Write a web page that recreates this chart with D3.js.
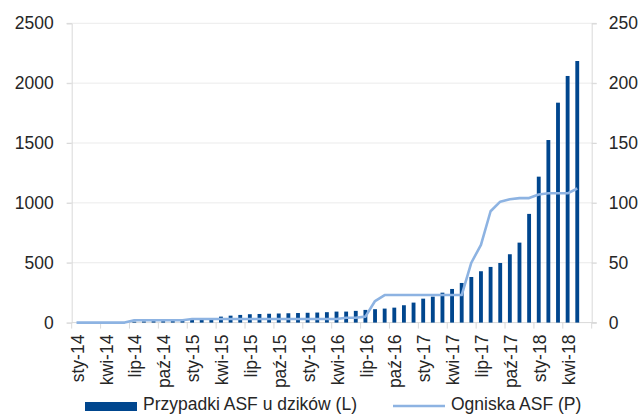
<!DOCTYPE html>
<html>
<head>
<meta charset="utf-8">
<script src="https://cdn.jsdelivr.net/npm/d3@7"></script>
<style>
  html, body { margin: 0; padding: 0; background: #fff; }
  svg { display: block; }
  text { font-family: "Liberation Sans", Arial, sans-serif; fill: #262626; }
</style>
</head>
<body>
<svg id="chart" width="641" height="414"></svg>
<script>
// Monthly categories, Jan 2014 – Jun 2018
const months = [
  "sty-14","lut-14","mar-14","kwi-14","maj-14","cze-14","lip-14","sie-14","wrz-14","paź-14","lis-14","gru-14",
  "sty-15","lut-15","mar-15","kwi-15","maj-15","cze-15","lip-15","sie-15","wrz-15","paź-15","lis-15","gru-15",
  "sty-16","lut-16","mar-16","kwi-16","maj-16","cze-16","lip-16","sie-16","wrz-16","paź-16","lis-16","gru-16",
  "sty-17","lut-17","mar-17","kwi-17","maj-17","cze-17","lip-17","sie-17","wrz-17","paź-17","lis-17","gru-17",
  "sty-18","lut-18","mar-18","kwi-18","maj-18","cze-18"
];

// Cumulative ASF cases in wild boar (left axis)
const wildBoarCases = [
  0, 2, 2, 3, 3, 5, 8, 10, 12, 12, 13, 16,
  25, 30, 38, 50, 58, 64, 70, 72, 74, 76, 78, 80,
  82, 84, 87, 92, 92, 98, 106, 112, 117, 125, 145, 167,
  200, 217, 250, 281, 331, 381, 429, 465, 498, 571, 668, 908,
  1219, 1525, 1837, 2060, 2185, null
];

// Cumulative ASF outbreaks in domestic pigs (right axis)
const outbreaks = [
  0, 0, 0, 0, 0, 0, 2, 2, 2, 2, 2, 2,
  3, 3, 3, 3, 3, 3, 3, 3, 3, 3, 3, 3,
  3, 3, 3, 3, 4, 4, 5, 18, 23, 23, 23, 23,
  23, 23, 23, 23, 23, 50, 65, 93, 101, 103, 104, 104,
  107, 108, 108, 108, 112, null
];

const leftTicks = [0, 500, 1000, 1500, 2000, 2500];
const rightTicks = [0, 50, 100, 150, 200, 250];

const seriesNames = ["Przypadki ASF u dzików (L)", "Ogniska ASF (P)"];
const barColor = "#00468E";
const lineColor = "#8DB3E2";
const gridColor = "#EBEBEB";
const axisColor = "#D9D9D9";

const svg = d3.select("#chart");
const plot = { left: 71.7, right: 591.7, top: 23.3, bottom: 322.6 };

const x = d3.scaleBand()
  .domain(months)
  .range([plot.left, plot.right])
  .paddingInner(0.6)
  .paddingOuter(0.3);
const step = x.step();
const cx = m => x(m) + x.bandwidth() / 2;

const yL = d3.scaleLinear().domain([0, 2500]).range([plot.bottom, plot.top]);
const yR = d3.scaleLinear().domain([0, 250]).range([plot.bottom, plot.top]);

// Gridlines
svg.append("g")
  .selectAll("line")
  .data(leftTicks.slice(1))
  .join("line")
  .attr("x1", plot.left - 5).attr("x2", plot.right + 5)
  .attr("y1", d => yL(d)).attr("y2", d => yL(d))
  .attr("stroke", gridColor).attr("stroke-width", 1);

// Left axis
const axL = svg.append("g")
  .attr("transform", `translate(${plot.left},0)`)
  .call(d3.axisLeft(yL).tickValues(leftTicks).tickFormat(d3.format("d")).tickSize(5).tickPadding(13));
axL.select(".domain").attr("stroke", axisColor);
axL.selectAll(".tick line").attr("stroke", axisColor);
axL.selectAll("text").style("font-size", "17.5px").attr("fill", "#262626")
  .attr("font-family", "Liberation Sans, Arial, sans-serif");

// Right axis
const axR = svg.append("g")
  .attr("transform", `translate(${plot.right},0)`)
  .call(d3.axisRight(yR).tickValues(rightTicks).tickFormat(d3.format("d")).tickSize(5).tickPadding(12));
axR.select(".domain").attr("stroke", axisColor);
axR.selectAll(".tick line").attr("stroke", axisColor);
axR.selectAll("text").style("font-size", "17.5px").attr("fill", "#262626")
  .attr("font-family", "Liberation Sans, Arial, sans-serif");

// Bottom axis: ticks every third month, at category boundaries
const labelled = months.filter((m, i) => i % 3 === 0);
const axB = svg.append("g");
axB.append("line")
  .attr("x1", plot.left).attr("x2", plot.right + 5)
  .attr("y1", plot.bottom).attr("y2", plot.bottom)
  .attr("stroke", axisColor);
axB.selectAll("line.tk")
  .data(labelled.concat(["end"]))
  .join("line")
  .attr("class", "tk")
  .attr("x1", d => d === "end" ? plot.right : x(d) - step * 0.3)
  .attr("x2", d => d === "end" ? plot.right : x(d) - step * 0.3)
  .attr("y1", plot.bottom).attr("y2", plot.bottom + 6)
  .attr("stroke", axisColor);
axB.selectAll("text")
  .data(labelled)
  .join("text")
  .attr("transform", d => `translate(${cx(d) + 1},${plot.bottom + 12}) rotate(-90)`)
  .attr("text-anchor", "end")
  .attr("dy", "0.35em")
  .style("font-size", "17.5px")
  .text(d => d);

// Bars
svg.append("g")
  .selectAll("rect")
  .data(months.map((m, i) => ({ m, v: wildBoarCases[i] })).filter(d => d.v != null))
  .join("rect")
  .attr("x", d => x(d.m))
  .attr("width", x.bandwidth())
  .attr("y", d => yL(d.v))
  .attr("height", d => yL(0) - yL(d.v))
  .attr("fill", barColor);

// Line
const line = d3.line()
  .defined(d => d.v != null)
  .x(d => cx(d.m))
  .y(d => yR(d.v))
  .curve(d3.curveLinear);
svg.append("path")
  .datum(months.map((m, i) => ({ m, v: outbreaks[i] })))
  .attr("d", line)
  .attr("fill", "none")
  .attr("stroke", lineColor)
  .attr("stroke-width", 2.6)
  .attr("stroke-linejoin", "round");

// Legend
const lg = svg.append("g");
lg.append("rect").attr("x", 85).attr("y", 402).attr("width", 52).attr("height", 9).attr("fill", barColor);
lg.append("text").attr("x", 143).attr("y", 410).style("font-size", "17.5px").text(seriesNames[0]);
lg.append("line").attr("x1", 393).attr("x2", 445).attr("y1", 406).attr("y2", 406)
  .attr("stroke", lineColor).attr("stroke-width", 2.6);
lg.append("text").attr("x", 451).attr("y", 410).style("font-size", "17.5px").text(seriesNames[1]);
</script>
</body>
</html>
